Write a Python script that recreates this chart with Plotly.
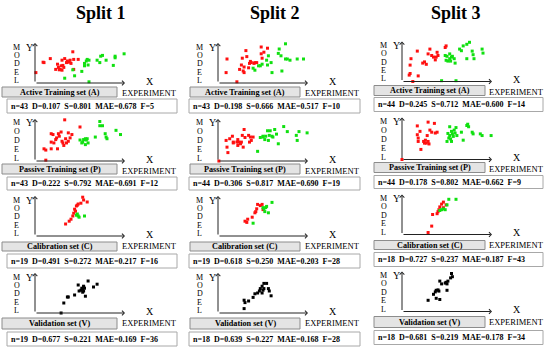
import plotly.graph_objects as go

W, H = 550, 352

split_titles = ["Split 1", "Split 2", "Split 3"]
set_labels = ["Active Training set (A)", "Passive Training set (P)",
              "Calibration set (C)", "Validation set (V)"]

split1_stats = ["n=43  D=0.107  S=0.801  MAE=0.678  F=5",
                "n=43  D=0.222  S=0.792  MAE=0.691  F=12",
                "n=19  D=0.491  S=0.272  MAE=0.217  F=16",
                "n=19  D=0.677  S=0.221  MAE=0.169  F=36"]
split2_stats = ["n=43  D=0.198  S=0.666  MAE=0.517  F=10",
                "n=44  D=0.306  S=0.817  MAE=0.690  F=19",
                "n=19  D=0.618  S=0.250  MAE=0.203  F=28",
                "n=18  D=0.639  S=0.227  MAE=0.168  F=28"]
split3_stats = ["n=44  D=0.245  S=0.712  MAE=0.600  F=14",
                "n=44  D=0.178  S=0.802  MAE=0.662  F=9",
                "n=18  D=0.727  S=0.237  MAE=0.187  F=43",
                "n=18  D=0.681  S=0.219  MAE=0.178  F=34"]

# ---- points: [experiment, model] in % of the drawn axis length ----
s1_A_red = [[1, 26], [9, 52], [10, 51], [17, 61], [23, 34], [25, 47], [26, 39], [27, 33],
            [28, 34], [29, 43], [30, 32], [31, 44], [30, 57], [32, 39], [33, 61], [35, 51],
            [36, 55], [38, 52], [39, 57], [40, 49], [42, 78], [43, 34], [43, 59], [48, 59]]
s1_A_green = [[33, 12], [42, 33], [44, 18], [52, 29], [55, 43], [55, 49], [57, 55], [58, 59],
              [60, 57], [59, 45], [60, 3], [69, 57], [72, 51], [73, 67], [75, 69], [79, 57],
              [87, 44], [89, 63], [89, 67], [99, 73]]
s1_P_red = [[33, 98], [10, 29], [12, 26], [18, 65], [20, 63], [18, 45], [18, 29], [24, 55],
            [25, 29], [26, 65], [27, 59], [29, 69], [30, 47], [31, 43], [32, 37], [34, 53],
            [35, 43], [37, 47], [37, 67], [39, 55], [41, 63], [50, 81], [12, 2], [23, 51], [21, 43]]
s1_P_green = [[52, 43], [54, 51], [56, 53], [57, 50], [58, 53], [56, 39], [59, 43], [67, 57],
              [72, 94], [72, 84], [75, 84], [78, 65], [79, 57], [80, 53], [90, 73], [95, 63],
              [50, 50], [53, 45]]
s1_C_red = [[34, 30], [38, 37], [40, 42], [42, 50], [43, 57], [44, 67], [45, 62], [46, 75],
            [47, 77], [48, 80], [51, 82], [53, 97], [54, 90], [58, 85]]
s1_C_green = [[46, 52], [47, 55], [48, 50], [49, 47], [55, 50]]
s1_V_black = [[29, 0], [32, 25], [37, 40], [36, 40], [44, 45], [48, 70], [51, 57], [52, 62],
              [53, 60], [54, 65], [54, 55], [55, 62], [56, 42], [59, 80], [65, 65], [69, 72],
              [53, 52], [49, 55], [54, 67]]

s2_A_red = [[9, 26], [10, 60], [21, 3], [24, 34], [26, 45], [27, 62], [28, 30], [29, 26],
            [29, 40], [31, 81], [32, 66], [34, 38], [35, 49], [36, 54], [37, 51], [40, 49],
            [41, 51], [43, 51], [48, 90], [49, 62], [51, 77], [55, 87], [48, 73]]
s2_A_green = [[39, 37], [41, 32], [45, 43], [47, 43], [49, 47], [54, 57], [55, 45], [56, 68],
              [59, 51], [60, 26], [67, 74], [68, 85], [70, 68], [71, 30], [75, 98], [75, 60],
              [77, 60], [80, 57], [88, 60], [95, 60]]
s2_P_red = [[1, 0], [9, 49], [10, 33], [11, 20], [16, 59], [17, 45], [21, 45], [22, 51],
            [23, 45], [25, 41], [26, 45], [27, 61], [28, 33], [29, 75], [30, 56], [34, 61],
            [35, 45], [36, 57], [39, 57], [17, 43], [22, 37], [37, 49], [13, 53]]
s2_P_green = [[44, 23], [47, 56], [50, 57], [53, 59], [55, 72], [56, 49], [57, 61], [58, 72],
              [63, 75], [65, 64], [67, 41], [73, 82], [77, 70], [87, 61], [88, 49], [90, 70],
              [99, 67], [60, 59], [52, 51], [50, 59], [61, 57]]
s2_C_red = [[30, 37], [32, 34], [33, 42], [38, 47], [41, 58], [43, 68], [44, 79], [47, 76],
            [49, 79], [50, 66], [42, 61]]
s2_C_green = [[39, 32], [51, 68], [52, 61], [54, 74], [56, 58], [60, 84], [53, 71], [50, 71]]
s2_V_black = [[29, 11], [29, 32], [30, 26], [34, 30], [39, 39], [41, 48], [44, 50], [46, 55],
              [47, 61], [49, 67], [49, 50], [50, 57], [51, 74], [51, 61], [54, 74], [56, 61],
              [57, 55], [59, 43]]

s3_A_red = [[8, 16], [9, 20], [9, 41], [10, 57], [12, 0], [17, 76], [18, 14], [23, 46],
            [25, 49], [27, 43], [29, 69], [31, 81], [33, 65], [35, 61], [37, 54], [38, 61],
            [39, 73], [40, 65], [48, 85], [49, 89]]
s3_A_green = [[44, 2], [48, 65], [49, 53], [50, 63], [51, 51], [53, 69], [53, 57], [54, 51],
              [55, 61], [56, 63], [58, 57], [59, 46], [60, 2], [64, 81], [66, 77], [68, 89],
              [72, 93], [75, 98], [72, 57], [78, 76], [79, 67], [80, 57], [89, 81], [90, 71]]
s3_P_red = [[0, 0], [17, 80], [17, 59], [18, 51], [18, 43], [20, 67], [21, 24], [24, 43],
            [25, 39], [26, 46], [27, 39], [28, 57], [29, 89], [29, 43], [30, 37], [31, 70],
            [33, 65], [36, 86], [37, 63], [39, 65]]
s3_P_green = [[50, 43], [52, 51], [53, 57], [53, 78], [54, 49], [55, 67], [56, 61], [57, 55],
              [59, 63], [60, 76], [66, 65], [68, 46], [72, 81], [73, 84], [74, 78], [78, 65],
              [79, 61], [87, 61], [89, 57], [99, 57], [58, 70], [55, 43], [61, 57], [51, 62]]
s3_C_red = [[29, 5], [33, 21], [34, 50], [39, 52], [40, 57], [41, 62], [44, 76], [46, 67],
            [46, 81], [49, 74], [42, 69]]
s3_C_green = [[42, 60], [44, 62], [46, 64], [48, 62], [50, 74], [52, 88], [60, 88]]
s3_V_black = [[29, 28], [35, 43], [37, 49], [38, 33], [38, 53], [40, 54], [42, 30], [42, 76],
              [44, 69], [48, 71], [49, 73], [50, 69], [51, 76], [50, 53], [54, 84], [56, 87],
              [55, 95], [41, 51]]

RED, GREEN, BLACK = "#FF1010", "#10E010", "#000000"

panels = [
    [[(s1_A_red, RED), (s1_A_green, GREEN)], [(s1_P_red, RED), (s1_P_green, GREEN)],
     [(s1_C_red, RED), (s1_C_green, GREEN)], [(s1_V_black, BLACK)]],
    [[(s2_A_red, RED), (s2_A_green, GREEN)], [(s2_P_red, RED), (s2_P_green, GREEN)],
     [(s2_C_red, RED), (s2_C_green, GREEN)], [(s2_V_black, BLACK)]],
    [[(s3_A_red, RED), (s3_A_green, GREEN)], [(s3_P_red, RED), (s3_P_green, GREEN)],
     [(s3_C_red, RED), (s3_C_green, GREEN)], [(s3_V_black, BLACK)]],
]
stats = [split1_stats, split2_stats, split3_stats]

# ---- layout geometry (pixels) ----
col_ox = [35, 218, 402]
col_dy = [0, 0, -1.5]
title_x = [101, 275, 456]
row_top = [43, 119, 196, 273]
row_oy = [83, 161, 236, 313]
box_y = [(87, 97), (164, 174), (242, 251), (318, 329)]
stats_y = [(99, 113), (177, 190), (254, 268), (332, 346)]
box_x = [(2, 117), (190, 300), (374, 485)]
stats_x = [(7, 177), (189, 360), (374, 543)]
AXW = 90

SERIF = "Liberation Serif, Times New Roman, serif"


def px(x):
    return x / W


def py(y):
    return 1 - y / H


fig = go.Figure()
layout = dict(width=W, height=H, margin=dict(l=0, r=0, t=0, b=0),
              paper_bgcolor="white", plot_bgcolor="rgba(0,0,0,0)", showlegend=False)
annotations = []
shapes = []

for c in range(3):
    annotations.append(dict(x=px(title_x[c]), y=py(13.5), xref="paper", yref="paper",
                            text="<b>%s</b>" % split_titles[c], showarrow=False,
                            font=dict(family=SERIF, size=18, color="black"),
                            xanchor="center", yanchor="middle"))
    for r in range(4):
        k = c * 4 + r + 1
        xn = "x" if k == 1 else "x%d" % k
        yn = "y" if k == 1 else "y%d" % k
        ox = col_ox[c]
        oy = row_oy[r] + col_dy[c]
        top = row_top[r] + col_dy[c]
        layout["xaxis" if k == 1 else "xaxis%d" % k] = dict(
            domain=[px(ox), px(ox + AXW)], range=[0, 100], visible=False, anchor=yn,
            fixedrange=True)
        layout["yaxis" if k == 1 else "yaxis%d" % k] = dict(
            domain=[py(oy), py(top)], range=[0, 100], visible=False, anchor=xn,
            fixedrange=True)
        for pts, col in panels[c][r]:
            fig.add_trace(go.Scatter(
                x=[p[0] for p in pts], y=[p[1] for p in pts], xaxis=xn, yaxis=yn,
                mode="markers", cliponaxis=False, hoverinfo="skip",
                marker=dict(symbol="square", size=3, color=col, line=dict(width=0))))
        # axes with arrows
        for (tx, ty) in [(100, 0), (0, 100)]:
            annotations.append(dict(x=tx, y=ty, ax=0, ay=0, xref=xn, yref=yn,
                                    axref=xn, ayref=yn, text="", showarrow=True,
                                    arrowhead=4, arrowsize=0.9, arrowwidth=1,
                                    arrowcolor="#222222", standoff=0, startstandoff=0))
        # Y label
        annotations.append(dict(x=px(ox - 6), y=py(top + 4), xref="paper", yref="paper",
                                text="Y", showarrow=False,
                                font=dict(family=SERIF, size=10, color="black"),
                                xanchor="center", yanchor="middle"))
        # MODEL vertical
        y_first, y_last = top + 4, oy - 2.5
        for i, ch in enumerate("MODEL"):
            yy = y_first + i * (y_last - y_first) / 4
            annotations.append(dict(x=px(ox - 18.5), y=py(yy), xref="paper", yref="paper",
                                    text=ch, showarrow=False,
                                    font=dict(family=SERIF, size=8, color="black"),
                                    xanchor="center", yanchor="middle"))
        # X label
        annotations.append(dict(x=px(ox + 115), y=py(oy - 2), xref="paper", yref="paper",
                                text="X", showarrow=False,
                                font=dict(family=SERIF, size=10, color="black"),
                                xanchor="center", yanchor="middle"))
        annotations.append(dict(x=px(ox + 114), y=py(oy + 10), xref="paper", yref="paper",
                                text="EXPERIMENT", showarrow=False,
                                font=dict(family=SERIF, size=8.5, color="black"),
                                xanchor="center", yanchor="middle"))
        # gray button box
        bx0, bx1 = box_x[c]
        by0, by1 = box_y[r][0] + col_dy[c], box_y[r][1] + col_dy[c]
        shapes.append(dict(type="rect", xref="paper", yref="paper",
                           x0=px(bx0), x1=px(bx1), y0=py(by1), y1=py(by0),
                           fillcolor="#E4E4E4", line=dict(color="#8C8C8C", width=1)))
        annotations.append(dict(x=px((bx0 + bx1) / 2), y=py((by0 + by1) / 2), xref="paper",
                                yref="paper", text="<b>%s</b>" % set_labels[r],
                                showarrow=False,
                                font=dict(family=SERIF, size=8.2, color="black"),
                                xanchor="center", yanchor="middle"))
        # stats box
        sx0, sx1 = stats_x[c]
        sy0, sy1 = stats_y[r][0] + col_dy[c], stats_y[r][1] + col_dy[c]
        shapes.append(dict(type="rect", xref="paper", yref="paper",
                           x0=px(sx0), x1=px(sx1), y0=py(sy1), y1=py(sy0),
                           fillcolor="white", line=dict(color="#A8A8A8", width=1)))
        annotations.append(dict(x=px(sx0 + 1.5), y=py((sy0 + sy1) / 2), xref="paper",
                                yref="paper",
                                text="<b>%s</b>" % stats[c][r].replace("  ", "\u00a0 "),
                                showarrow=False,
                                font=dict(family=SERIF, size=8, color="black"),
                                xanchor="left", yanchor="middle"))

layout["annotations"] = annotations
layout["shapes"] = shapes
fig.update_layout(**layout)
fig.write_html("out.html",
               config={"displayModeBar": False, "staticPlot": True},
               post_script="document.body.style.margin='0';"
                           "document.body.style.overflow='hidden';")
